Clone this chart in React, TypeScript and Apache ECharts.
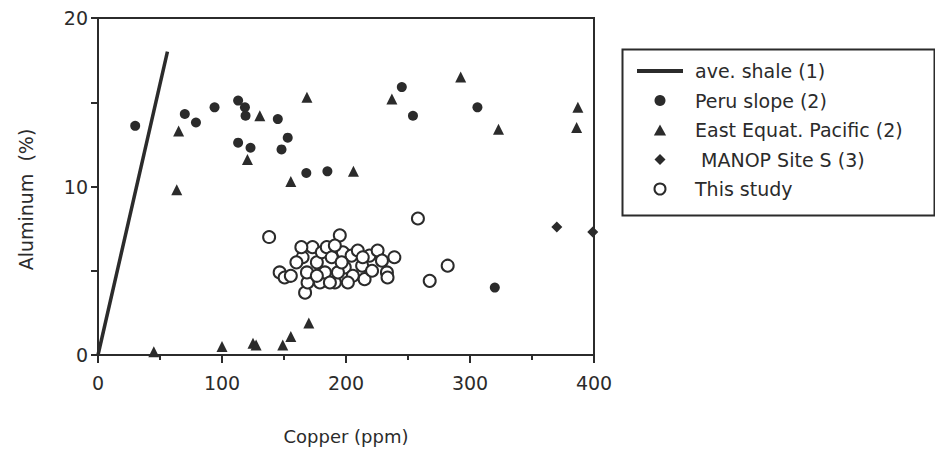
import React, { useEffect, useRef } from "react";
import * as echarts from "echarts";

const xTicks = [0, 100, 200, 300, 400];
const yTicks = [0, 10, 20];

const shaleLine = [[0, 0], [56, 18]];

const peruSlope = [
  [30, 13.6], [70, 14.3], [79, 13.8], [94, 14.7], [113, 15.1], [118.5, 14.7],
  [119, 14.2], [113, 12.6], [123, 12.3], [145, 14.0], [153, 12.9], [148, 12.2],
  [168, 10.8], [185, 10.9], [245, 15.9], [254, 14.2], [306, 14.7], [320, 4.0],
];

const eastEquatPacific = [
  [65, 13.3], [63.5, 9.8], [120.5, 11.6], [130.5, 14.2], [168.5, 15.3],
  [155.5, 10.3], [206, 10.9], [237, 15.2], [292.5, 16.5], [323, 13.4],
  [387, 14.7], [386, 13.5], [45, 0.2], [100, 0.5], [125, 0.7], [127.5, 0.6],
  [149, 0.6], [155.5, 1.1], [170, 1.9],
];

const manopSiteS = [[370, 7.6], [399, 7.3]];

const thisStudy = [
  [138, 7.0], [258, 8.1], [282, 5.3], [267.5, 4.4],
  [195, 7.1], [146.5, 4.9], [150.5, 4.6], [155.5, 4.7], [167, 3.7], [169, 4.3],
  [165, 5.8], [173, 6.4], [176.5, 5.5], [180.5, 6.1], [179, 4.3], [184.5, 6.4],
  [188.5, 5.8], [191, 4.3], [197.5, 6.1], [199, 5.2], [193.5, 4.9], [204.5, 5.9],
  [205.5, 4.7], [209.5, 6.2], [213, 5.3], [215, 4.5], [219, 5.9], [221, 5.0],
  [225.5, 6.2], [229, 5.6], [233, 4.9], [233.5, 4.6], [239, 5.8], [168.5, 4.9],
  [160, 5.5], [183, 4.9], [187, 4.3], [201.5, 4.3], [164, 6.4], [191, 6.5],
  [213.5, 5.8], [196.5, 5.5], [176.5, 4.7],
];

const legendNames = [
  "ave. shale (1)",
  "Peru slope (2)",
  "East Equat. Pacific (2)",
  " MANOP Site S (3)",
  "This study",
];

const INK = "#2b2b2b";
const FONT = "DejaVu Sans";

export default function App() {
  const ref = useRef<HTMLDivElement>(null);

  useEffect(() => {
    if (!ref.current) return;
    const chart = echarts.init(ref.current, null, { renderer: "svg" });
    chart.setOption({
      animation: false,
      backgroundColor: "#ffffff",
      grid: {
        left: 98,
        right: 341,
        top: 18,
        bottom: 95,
        show: true,
        borderColor: INK,
        borderWidth: 2,
        backgroundColor: "transparent",
      },
      graphic: [
        {
          type: "rect",
          left: 620,
          top: 47,
          shape: { x: 0, y: 0, width: 312, height: 166 },
          style: { fill: "none", stroke: INK, lineWidth: 2 },
          silent: true,
        },
      ],
      legend: {
        orient: "vertical",
        left: 637,
        top: 61,
        itemWidth: 46,
        itemHeight: 11,
        itemGap: 9.5,
        padding: 0,
        symbolKeepAspect: true,
        data: [
          { name: legendNames[0], icon: "path://M0,0L46,0L46,4L0,4Z", itemStyle: { color: INK } },
          { name: legendNames[1], icon: "path://M5,0A5,5 0 1 1 4.99,0Z" },
          { name: legendNames[2], icon: "path://M5,0L10,9L0,9Z" },
          { name: legendNames[3], icon: "path://M5,0L10,5L5,10L0,5Z" },
          { name: legendNames[4] },
        ],
        textStyle: { fontFamily: FONT, fontSize: 19, color: INK, lineHeight: 20, padding: [0, 0, 0, 7] },
        selectedMode: false,
      },
      xAxis: {
        type: "value",
        min: xTicks[0],
        max: xTicks[xTicks.length - 1],
        interval: 100,
        name: "Copper (ppm)",
        nameLocation: "middle",
        nameGap: 72,
        nameTextStyle: { fontFamily: FONT, fontSize: 18, color: INK },
        axisLine: { show: true, lineStyle: { color: INK, width: 2 } },
        axisTick: { show: true, length: 8, lineStyle: { color: INK, width: 2 } },
        minorTick: { show: true, splitNumber: 2, length: 5, lineStyle: { color: INK, width: 2 } },
        splitLine: { show: false },
        axisLabel: { fontFamily: FONT, fontSize: 19, color: INK, margin: 18 },
      },
      yAxis: {
        type: "value",
        min: yTicks[0],
        max: yTicks[yTicks.length - 1],
        interval: 10,
        name: "Aluminum  (%)",
        nameLocation: "middle",
        nameGap: 63,
        nameTextStyle: { fontFamily: FONT, fontSize: 19, color: INK, padding: [0, 26, 0, 0] },
        axisLine: { show: true, lineStyle: { color: INK, width: 2 } },
        axisTick: { show: true, length: 7, lineStyle: { color: INK, width: 2 } },
        minorTick: { show: true, splitNumber: 2, length: 7, lineStyle: { color: INK, width: 2 } },
        splitLine: { show: false },
        axisLabel: { fontFamily: FONT, fontSize: 19, color: INK, margin: 10 },
      },
      series: [
        {
          name: legendNames[0],
          type: "line",
          data: shaleLine,
          symbol: "none",
          lineStyle: { color: INK, width: 3.5 },
          itemStyle: { color: INK },
        },
        {
          name: legendNames[1],
          type: "scatter",
          data: peruSlope,
          symbol: "circle",
          symbolSize: 10,
          itemStyle: { color: INK, opacity: 1 },
        },
        {
          name: legendNames[2],
          type: "scatter",
          data: eastEquatPacific,
          symbol: "triangle",
          symbolSize: 11,
          itemStyle: { color: INK, opacity: 1 },
        },
        {
          name: legendNames[3],
          type: "scatter",
          data: manopSiteS,
          symbol: "diamond",
          symbolSize: 11,
          clip: false,
          itemStyle: { color: INK, opacity: 1 },
        },
        {
          name: legendNames[4],
          type: "scatter",
          data: thisStudy,
          symbol: "circle",
          symbolSize: 12,
          itemStyle: { color: "#ffffff", borderColor: INK, borderWidth: 2, opacity: 1 },
        },
      ],
    });
    return () => chart.dispose();
  }, []);

  return (
    <div
      ref={ref}
      style={{ position: "absolute", left: 0, top: 0, width: 935, height: 450 }}
    />
  );
}
